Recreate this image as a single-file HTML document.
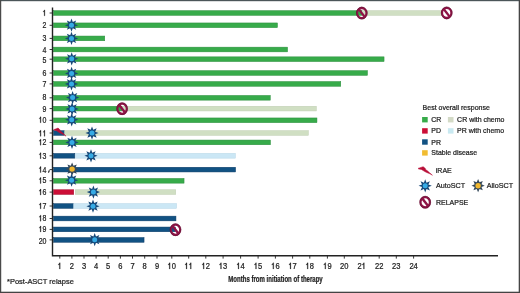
<!DOCTYPE html><html><head><meta charset="utf-8"><style>html,body{margin:0;padding:0;background:#fff}svg{display:block;will-change:transform}text{font-family:"Liberation Sans",sans-serif}</style></head><body>
<svg width="520" height="293" viewBox="0 0 520 293">
<rect x="0" y="0" width="520" height="293" fill="#fff"/>
<rect x="53.45" y="10.65" width="308.30" height="4.7" fill="#37ab4a" stroke="#2b8d3c" stroke-width="0.5"/>
<rect x="362.25" y="10.65" width="80.50" height="4.7" fill="#d0dfc3" stroke="#bfcdb2" stroke-width="0.5"/>
<rect x="53.45" y="22.95" width="224.00" height="4.7" fill="#37ab4a" stroke="#2b8d3c" stroke-width="0.5"/>
<rect x="53.45" y="36.05" width="51.30" height="4.7" fill="#37ab4a" stroke="#2b8d3c" stroke-width="0.5"/>
<rect x="53.45" y="47.15" width="234.10" height="4.7" fill="#37ab4a" stroke="#2b8d3c" stroke-width="0.5"/>
<rect x="53.45" y="56.85" width="330.60" height="4.7" fill="#37ab4a" stroke="#2b8d3c" stroke-width="0.5"/>
<rect x="53.45" y="70.65" width="314.00" height="4.7" fill="#37ab4a" stroke="#2b8d3c" stroke-width="0.5"/>
<rect x="53.45" y="81.55" width="287.30" height="4.7" fill="#37ab4a" stroke="#2b8d3c" stroke-width="0.5"/>
<rect x="53.45" y="95.45" width="216.80" height="4.7" fill="#37ab4a" stroke="#2b8d3c" stroke-width="0.5"/>
<rect x="53.45" y="106.25" width="68.30" height="4.7" fill="#37ab4a" stroke="#2b8d3c" stroke-width="0.5"/>
<rect x="122.25" y="106.25" width="194.10" height="4.7" fill="#d0dfc3" stroke="#bfcdb2" stroke-width="0.5"/>
<rect x="53.45" y="117.95" width="263.50" height="4.7" fill="#37ab4a" stroke="#2b8d3c" stroke-width="0.5"/>
<rect x="53.45" y="130.65" width="10.80" height="4.7" fill="#115283" stroke="#0b3b66" stroke-width="0.5"/>
<rect x="64.75" y="130.65" width="243.60" height="4.7" fill="#d0dfc3" stroke="#bfcdb2" stroke-width="0.5"/>
<rect x="53.45" y="140.05" width="217.00" height="4.7" fill="#37ab4a" stroke="#2b8d3c" stroke-width="0.5"/>
<rect x="53.45" y="153.45" width="21.30" height="4.7" fill="#115283" stroke="#0b3b66" stroke-width="0.5"/>
<rect x="75.25" y="153.45" width="160.00" height="4.7" fill="#cbe7f5" stroke="#b2d4e6" stroke-width="0.5"/>
<rect x="53.45" y="167.25" width="182.10" height="4.7" fill="#115283" stroke="#0b3b66" stroke-width="0.5"/>
<rect x="53.45" y="178.45" width="130.60" height="4.7" fill="#37ab4a" stroke="#2b8d3c" stroke-width="0.5"/>
<rect x="53.45" y="189.75" width="20.30" height="4.7" fill="#cc0e36" stroke="#a40f2e" stroke-width="0.5"/>
<rect x="75.25" y="189.75" width="100.50" height="4.7" fill="#d0dfc3" stroke="#bfcdb2" stroke-width="0.5"/>
<rect x="53.45" y="203.65" width="19.80" height="4.7" fill="#115283" stroke="#0b3b66" stroke-width="0.5"/>
<rect x="73.75" y="203.65" width="102.70" height="4.7" fill="#cbe7f5" stroke="#b2d4e6" stroke-width="0.5"/>
<rect x="53.45" y="216.15" width="122.50" height="4.7" fill="#115283" stroke="#0b3b66" stroke-width="0.5"/>
<rect x="53.45" y="227.05" width="121.80" height="4.7" fill="#115283" stroke="#0b3b66" stroke-width="0.5"/>
<rect x="53.45" y="237.55" width="90.60" height="4.7" fill="#115283" stroke="#0b3b66" stroke-width="0.5"/>
<path d="M52.5,7.5 V255.8 H498" fill="none" stroke="#222" stroke-width="1.4"/>
<line x1="49.6" y1="13.0" x2="52.6" y2="13.0" stroke="#222" stroke-width="0.9"/>
<path transform="translate(42.60,15.85) scale(7.007,8.316)" d="M0.33,0 L0.225,0 L0.225,-0.53 C0.19,-0.50 0.13,-0.47 0.085,-0.455 L0.085,-0.545 C0.16,-0.575 0.215,-0.63 0.24,-0.716 L0.33,-0.716 Z" fill="#1e1e1e" stroke="#1e1e1e" stroke-width="0.0314"/>
<line x1="49.6" y1="25.3" x2="52.6" y2="25.3" stroke="#222" stroke-width="0.9"/>
<text transform="translate(42.60,28.05) scale(0.91,1.08)" font-size="7.7" fill="#1e1e1e" stroke="#1e1e1e" stroke-width="0.22">2</text>
<line x1="49.6" y1="38.4" x2="52.6" y2="38.4" stroke="#222" stroke-width="0.9"/>
<text transform="translate(42.60,41.25) scale(0.91,1.08)" font-size="7.7" fill="#1e1e1e" stroke="#1e1e1e" stroke-width="0.22">3</text>
<line x1="49.6" y1="49.5" x2="52.6" y2="49.5" stroke="#222" stroke-width="0.9"/>
<text transform="translate(42.60,52.55) scale(0.91,1.08)" font-size="7.7" fill="#1e1e1e" stroke="#1e1e1e" stroke-width="0.22">4</text>
<line x1="49.6" y1="59.2" x2="52.6" y2="59.2" stroke="#222" stroke-width="0.9"/>
<text transform="translate(42.60,62.55) scale(0.91,1.08)" font-size="7.7" fill="#1e1e1e" stroke="#1e1e1e" stroke-width="0.22">5</text>
<line x1="49.6" y1="73.0" x2="52.6" y2="73.0" stroke="#222" stroke-width="0.9"/>
<text transform="translate(42.60,76.05) scale(0.91,1.08)" font-size="7.7" fill="#1e1e1e" stroke="#1e1e1e" stroke-width="0.22">6</text>
<line x1="49.6" y1="83.9" x2="52.6" y2="83.9" stroke="#222" stroke-width="0.9"/>
<text transform="translate(42.60,86.65) scale(0.91,1.08)" font-size="7.7" fill="#1e1e1e" stroke="#1e1e1e" stroke-width="0.22">7</text>
<line x1="49.6" y1="97.8" x2="52.6" y2="97.8" stroke="#222" stroke-width="0.9"/>
<text transform="translate(42.60,100.35) scale(0.91,1.08)" font-size="7.7" fill="#1e1e1e" stroke="#1e1e1e" stroke-width="0.22">8</text>
<line x1="49.6" y1="108.6" x2="52.6" y2="108.6" stroke="#222" stroke-width="0.9"/>
<text transform="translate(42.60,111.55) scale(0.91,1.08)" font-size="7.7" fill="#1e1e1e" stroke="#1e1e1e" stroke-width="0.22">9</text>
<line x1="49.6" y1="120.3" x2="52.6" y2="120.3" stroke="#222" stroke-width="0.9"/>
<path transform="translate(38.71,122.75) scale(7.007,8.316)" d="M0.33,0 L0.225,0 L0.225,-0.53 C0.19,-0.50 0.13,-0.47 0.085,-0.455 L0.085,-0.545 C0.16,-0.575 0.215,-0.63 0.24,-0.716 L0.33,-0.716 Z" fill="#1e1e1e" stroke="#1e1e1e" stroke-width="0.0314"/><text transform="translate(42.60,122.75) scale(0.91,1.08)" font-size="7.7" fill="#1e1e1e" stroke="#1e1e1e" stroke-width="0.22">0</text>
<line x1="49.6" y1="133.0" x2="52.6" y2="133.0" stroke="#222" stroke-width="0.9"/>
<path transform="translate(38.71,136.25) scale(7.007,8.316)" d="M0.33,0 L0.225,0 L0.225,-0.53 C0.19,-0.50 0.13,-0.47 0.085,-0.455 L0.085,-0.545 C0.16,-0.575 0.215,-0.63 0.24,-0.716 L0.33,-0.716 Z" fill="#1e1e1e" stroke="#1e1e1e" stroke-width="0.0314"/><path transform="translate(42.60,136.25) scale(7.007,8.316)" d="M0.33,0 L0.225,0 L0.225,-0.53 C0.19,-0.50 0.13,-0.47 0.085,-0.455 L0.085,-0.545 C0.16,-0.575 0.215,-0.63 0.24,-0.716 L0.33,-0.716 Z" fill="#1e1e1e" stroke="#1e1e1e" stroke-width="0.0314"/>
<line x1="49.6" y1="142.4" x2="52.6" y2="142.4" stroke="#222" stroke-width="0.9"/>
<path transform="translate(38.71,145.15) scale(7.007,8.316)" d="M0.33,0 L0.225,0 L0.225,-0.53 C0.19,-0.50 0.13,-0.47 0.085,-0.455 L0.085,-0.545 C0.16,-0.575 0.215,-0.63 0.24,-0.716 L0.33,-0.716 Z" fill="#1e1e1e" stroke="#1e1e1e" stroke-width="0.0314"/><text transform="translate(42.60,145.15) scale(0.91,1.08)" font-size="7.7" fill="#1e1e1e" stroke="#1e1e1e" stroke-width="0.22">2</text>
<line x1="49.6" y1="155.8" x2="52.6" y2="155.8" stroke="#222" stroke-width="0.9"/>
<path transform="translate(38.71,158.65) scale(7.007,8.316)" d="M0.33,0 L0.225,0 L0.225,-0.53 C0.19,-0.50 0.13,-0.47 0.085,-0.455 L0.085,-0.545 C0.16,-0.575 0.215,-0.63 0.24,-0.716 L0.33,-0.716 Z" fill="#1e1e1e" stroke="#1e1e1e" stroke-width="0.0314"/><text transform="translate(42.60,158.65) scale(0.91,1.08)" font-size="7.7" fill="#1e1e1e" stroke="#1e1e1e" stroke-width="0.22">3</text>
<line x1="49.6" y1="169.6" x2="52.6" y2="169.6" stroke="#222" stroke-width="0.9"/>
<path transform="translate(38.71,172.55) scale(7.007,8.316)" d="M0.33,0 L0.225,0 L0.225,-0.53 C0.19,-0.50 0.13,-0.47 0.085,-0.455 L0.085,-0.545 C0.16,-0.575 0.215,-0.63 0.24,-0.716 L0.33,-0.716 Z" fill="#1e1e1e" stroke="#1e1e1e" stroke-width="0.0314"/><text transform="translate(42.60,172.55) scale(0.91,1.08)" font-size="7.7" fill="#1e1e1e" stroke="#1e1e1e" stroke-width="0.22">4</text>
<line x1="49.6" y1="180.8" x2="52.6" y2="180.8" stroke="#222" stroke-width="0.9"/>
<path transform="translate(38.71,183.45) scale(7.007,8.316)" d="M0.33,0 L0.225,0 L0.225,-0.53 C0.19,-0.50 0.13,-0.47 0.085,-0.455 L0.085,-0.545 C0.16,-0.575 0.215,-0.63 0.24,-0.716 L0.33,-0.716 Z" fill="#1e1e1e" stroke="#1e1e1e" stroke-width="0.0314"/><text transform="translate(42.60,183.45) scale(0.91,1.08)" font-size="7.7" fill="#1e1e1e" stroke="#1e1e1e" stroke-width="0.22">5</text>
<line x1="49.6" y1="192.1" x2="52.6" y2="192.1" stroke="#222" stroke-width="0.9"/>
<path transform="translate(38.71,195.05) scale(7.007,8.316)" d="M0.33,0 L0.225,0 L0.225,-0.53 C0.19,-0.50 0.13,-0.47 0.085,-0.455 L0.085,-0.545 C0.16,-0.575 0.215,-0.63 0.24,-0.716 L0.33,-0.716 Z" fill="#1e1e1e" stroke="#1e1e1e" stroke-width="0.0314"/><text transform="translate(42.60,195.05) scale(0.91,1.08)" font-size="7.7" fill="#1e1e1e" stroke="#1e1e1e" stroke-width="0.22">6</text>
<line x1="49.6" y1="206.0" x2="52.6" y2="206.0" stroke="#222" stroke-width="0.9"/>
<path transform="translate(38.71,208.85) scale(7.007,8.316)" d="M0.33,0 L0.225,0 L0.225,-0.53 C0.19,-0.50 0.13,-0.47 0.085,-0.455 L0.085,-0.545 C0.16,-0.575 0.215,-0.63 0.24,-0.716 L0.33,-0.716 Z" fill="#1e1e1e" stroke="#1e1e1e" stroke-width="0.0314"/><text transform="translate(42.60,208.85) scale(0.91,1.08)" font-size="7.7" fill="#1e1e1e" stroke="#1e1e1e" stroke-width="0.22">7</text>
<line x1="49.6" y1="218.5" x2="52.6" y2="218.5" stroke="#222" stroke-width="0.9"/>
<path transform="translate(38.71,221.15) scale(7.007,8.316)" d="M0.33,0 L0.225,0 L0.225,-0.53 C0.19,-0.50 0.13,-0.47 0.085,-0.455 L0.085,-0.545 C0.16,-0.575 0.215,-0.63 0.24,-0.716 L0.33,-0.716 Z" fill="#1e1e1e" stroke="#1e1e1e" stroke-width="0.0314"/><text transform="translate(42.60,221.15) scale(0.91,1.08)" font-size="7.7" fill="#1e1e1e" stroke="#1e1e1e" stroke-width="0.22">8</text>
<line x1="49.6" y1="229.4" x2="52.6" y2="229.4" stroke="#222" stroke-width="0.9"/>
<path transform="translate(38.71,231.95) scale(7.007,8.316)" d="M0.33,0 L0.225,0 L0.225,-0.53 C0.19,-0.50 0.13,-0.47 0.085,-0.455 L0.085,-0.545 C0.16,-0.575 0.215,-0.63 0.24,-0.716 L0.33,-0.716 Z" fill="#1e1e1e" stroke="#1e1e1e" stroke-width="0.0314"/><text transform="translate(42.60,231.95) scale(0.91,1.08)" font-size="7.7" fill="#1e1e1e" stroke="#1e1e1e" stroke-width="0.22">9</text>
<line x1="49.6" y1="239.9" x2="52.6" y2="239.9" stroke="#222" stroke-width="0.9"/>
<text transform="translate(38.71,243.85) scale(0.91,1.08)" font-size="7.7" fill="#1e1e1e" stroke="#1e1e1e" stroke-width="0.22">2</text><text transform="translate(42.60,243.85) scale(0.91,1.08)" font-size="7.7" fill="#1e1e1e" stroke="#1e1e1e" stroke-width="0.22">0</text>
<line x1="59.8" y1="255.8" x2="59.8" y2="258.6" stroke="#222" stroke-width="0.9"/>
<path transform="translate(57.70,268.90) scale(7.546,8.470)" d="M0.33,0 L0.225,0 L0.225,-0.53 C0.19,-0.50 0.13,-0.47 0.085,-0.455 L0.085,-0.545 C0.16,-0.575 0.215,-0.63 0.24,-0.716 L0.33,-0.716 Z" fill="#1e1e1e" stroke="#1e1e1e" stroke-width="0.0292"/>
<line x1="71.9" y1="255.8" x2="71.9" y2="258.6" stroke="#222" stroke-width="0.9"/>
<text transform="translate(69.80,268.90) scale(0.98,1.1)" font-size="7.7" fill="#1e1e1e" stroke="#1e1e1e" stroke-width="0.22">2</text>
<line x1="84" y1="255.8" x2="84" y2="258.6" stroke="#222" stroke-width="0.9"/>
<text transform="translate(81.90,268.90) scale(0.98,1.1)" font-size="7.7" fill="#1e1e1e" stroke="#1e1e1e" stroke-width="0.22">3</text>
<line x1="96.1" y1="255.8" x2="96.1" y2="258.6" stroke="#222" stroke-width="0.9"/>
<text transform="translate(94.00,268.90) scale(0.98,1.1)" font-size="7.7" fill="#1e1e1e" stroke="#1e1e1e" stroke-width="0.22">4</text>
<line x1="108.2" y1="255.8" x2="108.2" y2="258.6" stroke="#222" stroke-width="0.9"/>
<text transform="translate(106.10,268.90) scale(0.98,1.1)" font-size="7.7" fill="#1e1e1e" stroke="#1e1e1e" stroke-width="0.22">5</text>
<line x1="120.4" y1="255.8" x2="120.4" y2="258.6" stroke="#222" stroke-width="0.9"/>
<text transform="translate(118.30,268.90) scale(0.98,1.1)" font-size="7.7" fill="#1e1e1e" stroke="#1e1e1e" stroke-width="0.22">6</text>
<line x1="132.5" y1="255.8" x2="132.5" y2="258.6" stroke="#222" stroke-width="0.9"/>
<text transform="translate(130.40,268.90) scale(0.98,1.1)" font-size="7.7" fill="#1e1e1e" stroke="#1e1e1e" stroke-width="0.22">7</text>
<line x1="144.7" y1="255.8" x2="144.7" y2="258.6" stroke="#222" stroke-width="0.9"/>
<text transform="translate(142.60,268.90) scale(0.98,1.1)" font-size="7.7" fill="#1e1e1e" stroke="#1e1e1e" stroke-width="0.22">8</text>
<line x1="157" y1="255.8" x2="157" y2="258.6" stroke="#222" stroke-width="0.9"/>
<text transform="translate(154.90,268.90) scale(0.98,1.1)" font-size="7.7" fill="#1e1e1e" stroke="#1e1e1e" stroke-width="0.22">9</text>
<line x1="171.8" y1="255.8" x2="171.8" y2="258.6" stroke="#222" stroke-width="0.9"/>
<path transform="translate(167.60,268.90) scale(7.546,8.470)" d="M0.33,0 L0.225,0 L0.225,-0.53 C0.19,-0.50 0.13,-0.47 0.085,-0.455 L0.085,-0.545 C0.16,-0.575 0.215,-0.63 0.24,-0.716 L0.33,-0.716 Z" fill="#1e1e1e" stroke="#1e1e1e" stroke-width="0.0292"/><text transform="translate(171.80,268.90) scale(0.98,1.1)" font-size="7.7" fill="#1e1e1e" stroke="#1e1e1e" stroke-width="0.22">0</text>
<line x1="188.7" y1="255.8" x2="188.7" y2="258.6" stroke="#222" stroke-width="0.9"/>
<path transform="translate(184.50,268.90) scale(7.546,8.470)" d="M0.33,0 L0.225,0 L0.225,-0.53 C0.19,-0.50 0.13,-0.47 0.085,-0.455 L0.085,-0.545 C0.16,-0.575 0.215,-0.63 0.24,-0.716 L0.33,-0.716 Z" fill="#1e1e1e" stroke="#1e1e1e" stroke-width="0.0292"/><path transform="translate(188.70,268.90) scale(7.546,8.470)" d="M0.33,0 L0.225,0 L0.225,-0.53 C0.19,-0.50 0.13,-0.47 0.085,-0.455 L0.085,-0.545 C0.16,-0.575 0.215,-0.63 0.24,-0.716 L0.33,-0.716 Z" fill="#1e1e1e" stroke="#1e1e1e" stroke-width="0.0292"/>
<line x1="205.8" y1="255.8" x2="205.8" y2="258.6" stroke="#222" stroke-width="0.9"/>
<path transform="translate(201.60,268.90) scale(7.546,8.470)" d="M0.33,0 L0.225,0 L0.225,-0.53 C0.19,-0.50 0.13,-0.47 0.085,-0.455 L0.085,-0.545 C0.16,-0.575 0.215,-0.63 0.24,-0.716 L0.33,-0.716 Z" fill="#1e1e1e" stroke="#1e1e1e" stroke-width="0.0292"/><text transform="translate(205.80,268.90) scale(0.98,1.1)" font-size="7.7" fill="#1e1e1e" stroke="#1e1e1e" stroke-width="0.22">2</text>
<line x1="223.1" y1="255.8" x2="223.1" y2="258.6" stroke="#222" stroke-width="0.9"/>
<path transform="translate(218.90,268.90) scale(7.546,8.470)" d="M0.33,0 L0.225,0 L0.225,-0.53 C0.19,-0.50 0.13,-0.47 0.085,-0.455 L0.085,-0.545 C0.16,-0.575 0.215,-0.63 0.24,-0.716 L0.33,-0.716 Z" fill="#1e1e1e" stroke="#1e1e1e" stroke-width="0.0292"/><text transform="translate(223.10,268.90) scale(0.98,1.1)" font-size="7.7" fill="#1e1e1e" stroke="#1e1e1e" stroke-width="0.22">3</text>
<line x1="240.6" y1="255.8" x2="240.6" y2="258.6" stroke="#222" stroke-width="0.9"/>
<path transform="translate(236.40,268.90) scale(7.546,8.470)" d="M0.33,0 L0.225,0 L0.225,-0.53 C0.19,-0.50 0.13,-0.47 0.085,-0.455 L0.085,-0.545 C0.16,-0.575 0.215,-0.63 0.24,-0.716 L0.33,-0.716 Z" fill="#1e1e1e" stroke="#1e1e1e" stroke-width="0.0292"/><text transform="translate(240.60,268.90) scale(0.98,1.1)" font-size="7.7" fill="#1e1e1e" stroke="#1e1e1e" stroke-width="0.22">4</text>
<line x1="258.1" y1="255.8" x2="258.1" y2="258.6" stroke="#222" stroke-width="0.9"/>
<path transform="translate(253.90,268.90) scale(7.546,8.470)" d="M0.33,0 L0.225,0 L0.225,-0.53 C0.19,-0.50 0.13,-0.47 0.085,-0.455 L0.085,-0.545 C0.16,-0.575 0.215,-0.63 0.24,-0.716 L0.33,-0.716 Z" fill="#1e1e1e" stroke="#1e1e1e" stroke-width="0.0292"/><text transform="translate(258.10,268.90) scale(0.98,1.1)" font-size="7.7" fill="#1e1e1e" stroke="#1e1e1e" stroke-width="0.22">5</text>
<line x1="275.4" y1="255.8" x2="275.4" y2="258.6" stroke="#222" stroke-width="0.9"/>
<path transform="translate(271.20,268.90) scale(7.546,8.470)" d="M0.33,0 L0.225,0 L0.225,-0.53 C0.19,-0.50 0.13,-0.47 0.085,-0.455 L0.085,-0.545 C0.16,-0.575 0.215,-0.63 0.24,-0.716 L0.33,-0.716 Z" fill="#1e1e1e" stroke="#1e1e1e" stroke-width="0.0292"/><text transform="translate(275.40,268.90) scale(0.98,1.1)" font-size="7.7" fill="#1e1e1e" stroke="#1e1e1e" stroke-width="0.22">6</text>
<line x1="292.6" y1="255.8" x2="292.6" y2="258.6" stroke="#222" stroke-width="0.9"/>
<path transform="translate(288.40,268.90) scale(7.546,8.470)" d="M0.33,0 L0.225,0 L0.225,-0.53 C0.19,-0.50 0.13,-0.47 0.085,-0.455 L0.085,-0.545 C0.16,-0.575 0.215,-0.63 0.24,-0.716 L0.33,-0.716 Z" fill="#1e1e1e" stroke="#1e1e1e" stroke-width="0.0292"/><text transform="translate(292.60,268.90) scale(0.98,1.1)" font-size="7.7" fill="#1e1e1e" stroke="#1e1e1e" stroke-width="0.22">7</text>
<line x1="309.8" y1="255.8" x2="309.8" y2="258.6" stroke="#222" stroke-width="0.9"/>
<path transform="translate(305.60,268.90) scale(7.546,8.470)" d="M0.33,0 L0.225,0 L0.225,-0.53 C0.19,-0.50 0.13,-0.47 0.085,-0.455 L0.085,-0.545 C0.16,-0.575 0.215,-0.63 0.24,-0.716 L0.33,-0.716 Z" fill="#1e1e1e" stroke="#1e1e1e" stroke-width="0.0292"/><text transform="translate(309.80,268.90) scale(0.98,1.1)" font-size="7.7" fill="#1e1e1e" stroke="#1e1e1e" stroke-width="0.22">8</text>
<line x1="327.4" y1="255.8" x2="327.4" y2="258.6" stroke="#222" stroke-width="0.9"/>
<path transform="translate(323.20,268.90) scale(7.546,8.470)" d="M0.33,0 L0.225,0 L0.225,-0.53 C0.19,-0.50 0.13,-0.47 0.085,-0.455 L0.085,-0.545 C0.16,-0.575 0.215,-0.63 0.24,-0.716 L0.33,-0.716 Z" fill="#1e1e1e" stroke="#1e1e1e" stroke-width="0.0292"/><text transform="translate(327.40,268.90) scale(0.98,1.1)" font-size="7.7" fill="#1e1e1e" stroke="#1e1e1e" stroke-width="0.22">9</text>
<line x1="344.3" y1="255.8" x2="344.3" y2="258.6" stroke="#222" stroke-width="0.9"/>
<text transform="translate(340.10,268.90) scale(0.98,1.1)" font-size="7.7" fill="#1e1e1e" stroke="#1e1e1e" stroke-width="0.22">2</text><text transform="translate(344.30,268.90) scale(0.98,1.1)" font-size="7.7" fill="#1e1e1e" stroke="#1e1e1e" stroke-width="0.22">0</text>
<line x1="361.8" y1="255.8" x2="361.8" y2="258.6" stroke="#222" stroke-width="0.9"/>
<text transform="translate(357.60,268.90) scale(0.98,1.1)" font-size="7.7" fill="#1e1e1e" stroke="#1e1e1e" stroke-width="0.22">2</text><path transform="translate(361.80,268.90) scale(7.546,8.470)" d="M0.33,0 L0.225,0 L0.225,-0.53 C0.19,-0.50 0.13,-0.47 0.085,-0.455 L0.085,-0.545 C0.16,-0.575 0.215,-0.63 0.24,-0.716 L0.33,-0.716 Z" fill="#1e1e1e" stroke="#1e1e1e" stroke-width="0.0292"/>
<line x1="379.2" y1="255.8" x2="379.2" y2="258.6" stroke="#222" stroke-width="0.9"/>
<text transform="translate(375.00,268.90) scale(0.98,1.1)" font-size="7.7" fill="#1e1e1e" stroke="#1e1e1e" stroke-width="0.22">2</text><text transform="translate(379.20,268.90) scale(0.98,1.1)" font-size="7.7" fill="#1e1e1e" stroke="#1e1e1e" stroke-width="0.22">2</text>
<line x1="396.3" y1="255.8" x2="396.3" y2="258.6" stroke="#222" stroke-width="0.9"/>
<text transform="translate(392.10,268.90) scale(0.98,1.1)" font-size="7.7" fill="#1e1e1e" stroke="#1e1e1e" stroke-width="0.22">2</text><text transform="translate(396.30,268.90) scale(0.98,1.1)" font-size="7.7" fill="#1e1e1e" stroke="#1e1e1e" stroke-width="0.22">3</text>
<line x1="413.6" y1="255.8" x2="413.6" y2="258.6" stroke="#222" stroke-width="0.9"/>
<text transform="translate(409.40,268.90) scale(0.98,1.1)" font-size="7.7" fill="#1e1e1e" stroke="#1e1e1e" stroke-width="0.22">2</text><text transform="translate(413.60,268.90) scale(0.98,1.1)" font-size="7.7" fill="#1e1e1e" stroke="#1e1e1e" stroke-width="0.22">4</text>
<g transform="translate(361.8,13.1) scale(1,1.1)"><circle cx="0" cy="0" r="4.65" fill="none" stroke="#8e1446" stroke-width="2.1"/><line x1="-3.20" y1="-3.73" x2="3.20" y2="3.73" stroke="#8e1446" stroke-width="2.3"/><circle cx="0" cy="0" r="5.45" fill="none" stroke="#560d2c" stroke-width="0.5"/></g>
<g transform="translate(446.7,12.9) scale(1,1.1)"><circle cx="0" cy="0" r="4.65" fill="none" stroke="#8e1446" stroke-width="2.1"/><line x1="-3.20" y1="-3.73" x2="3.20" y2="3.73" stroke="#8e1446" stroke-width="2.3"/><circle cx="0" cy="0" r="5.45" fill="none" stroke="#560d2c" stroke-width="0.5"/></g>
<polygon points="71.50,18.60 72.80,22.06 76.17,20.53 74.64,23.90 78.10,25.20 74.64,26.50 76.17,29.87 72.80,28.34 71.50,31.80 70.20,28.34 66.83,29.87 68.36,26.50 64.90,25.20 68.36,23.90 66.83,20.53 70.20,22.06" fill="#164878"/><circle cx="71.5" cy="25.2" r="2.5" fill="#36abe5"/>
<polygon points="71.50,31.80 72.80,35.26 76.17,33.73 74.64,37.10 78.10,38.40 74.64,39.70 76.17,43.07 72.80,41.54 71.50,45.00 70.20,41.54 66.83,43.07 68.36,39.70 64.90,38.40 68.36,37.10 66.83,33.73 70.20,35.26" fill="#164878"/><circle cx="71.5" cy="38.4" r="2.5" fill="#36abe5"/>
<polygon points="71.70,52.20 73.00,55.66 76.37,54.13 74.84,57.50 78.30,58.80 74.84,60.10 76.37,63.47 73.00,61.94 71.70,65.40 70.40,61.94 67.03,63.47 68.56,60.10 65.10,58.80 68.56,57.50 67.03,54.13 70.40,55.66" fill="#164878"/><circle cx="71.7" cy="58.8" r="2.5" fill="#36abe5"/>
<polygon points="71.60,66.80 72.90,70.26 76.27,68.73 74.74,72.10 78.20,73.40 74.74,74.70 76.27,78.07 72.90,76.54 71.60,80.00 70.30,76.54 66.93,78.07 68.46,74.70 65.00,73.40 68.46,72.10 66.93,68.73 70.30,70.26" fill="#164878"/><circle cx="71.6" cy="73.4" r="2.5" fill="#36abe5"/>
<polygon points="71.50,77.30 72.80,80.76 76.17,79.23 74.64,82.60 78.10,83.90 74.64,85.20 76.17,88.57 72.80,87.04 71.50,90.50 70.20,87.04 66.83,88.57 68.36,85.20 64.90,83.90 68.36,82.60 66.83,79.23 70.20,80.76" fill="#164878"/><circle cx="71.5" cy="83.9" r="2.5" fill="#36abe5"/>
<polygon points="72.60,91.00 73.90,94.46 77.27,92.93 75.74,96.30 79.20,97.60 75.74,98.90 77.27,102.27 73.90,100.74 72.60,104.20 71.30,100.74 67.93,102.27 69.46,98.90 66.00,97.60 69.46,96.30 67.93,92.93 71.30,94.46" fill="#164878"/><circle cx="72.6" cy="97.6" r="2.5" fill="#36abe5"/>
<polygon points="72.10,102.30 73.40,105.76 76.77,104.23 75.24,107.60 78.70,108.90 75.24,110.20 76.77,113.57 73.40,112.04 72.10,115.50 70.80,112.04 67.43,113.57 68.96,110.20 65.50,108.90 68.96,107.60 67.43,104.23 70.80,105.76" fill="#164878"/><circle cx="72.1" cy="108.9" r="2.5" fill="#36abe5"/>
<g transform="translate(122.1,108.7) scale(1,1.1)"><circle cx="0" cy="0" r="4.65" fill="none" stroke="#8e1446" stroke-width="2.1"/><line x1="-3.20" y1="-3.73" x2="3.20" y2="3.73" stroke="#8e1446" stroke-width="2.3"/><circle cx="0" cy="0" r="5.45" fill="none" stroke="#560d2c" stroke-width="0.5"/></g>
<polygon points="71.70,113.20 73.00,116.66 76.37,115.13 74.84,118.50 78.30,119.80 74.84,121.10 76.37,124.47 73.00,122.94 71.70,126.40 70.40,122.94 67.03,124.47 68.56,121.10 65.10,119.80 68.56,118.50 67.03,115.13 70.40,116.66" fill="#164878"/><circle cx="71.7" cy="119.8" r="2.5" fill="#36abe5"/>
<path transform="translate(53.2,127.8) scale(0.87,0.95)" d="M0.4,2.0 L5.5,0.3 L6.7,1.1 L7.7,2.1 L8.2,3.4 L9.8,4.4 L11.7,6.1 L14.8,8.8 L12.3,7.4 L10.3,6.6 L8.5,5.8 L7.2,5.2 L5.5,4.1 L3.7,3.0 L1.0,2.5 Z" fill="#b80f38" stroke="#b80f38" stroke-width="0.5" stroke-linejoin="round"/>
<polygon points="92.00,126.40 93.30,129.86 96.67,128.33 95.14,131.70 98.60,133.00 95.14,134.30 96.67,137.67 93.30,136.14 92.00,139.60 90.70,136.14 87.33,137.67 88.86,134.30 85.40,133.00 88.86,131.70 87.33,128.33 90.70,129.86" fill="#164878"/><circle cx="92" cy="133" r="2.5" fill="#36abe5"/>
<polygon points="72.00,135.80 73.30,139.26 76.67,137.73 75.14,141.10 78.60,142.40 75.14,143.70 76.67,147.07 73.30,145.54 72.00,149.00 70.70,145.54 67.33,147.07 68.86,143.70 65.40,142.40 68.86,141.10 67.33,137.73 70.70,139.26" fill="#164878"/><circle cx="72" cy="142.4" r="2.5" fill="#36abe5"/>
<polygon points="91.00,149.20 92.30,152.66 95.67,151.13 94.14,154.50 97.60,155.80 94.14,157.10 95.67,160.47 92.30,158.94 91.00,162.40 89.70,158.94 86.33,160.47 87.86,157.10 84.40,155.80 87.86,154.50 86.33,151.13 89.70,152.66" fill="#164878"/><circle cx="91" cy="155.8" r="2.5" fill="#36abe5"/>
<polygon points="72.10,162.50 73.52,165.68 76.77,164.43 75.52,167.68 78.70,169.10 75.52,170.52 76.77,173.77 73.52,172.52 72.10,175.70 70.68,172.52 67.43,173.77 68.68,170.52 65.50,169.10 68.68,167.68 67.43,164.43 70.68,165.68" fill="#35495a"/><circle cx="72.1" cy="169.1" r="2.7" fill="#f1b72e"/>
<polygon points="71.60,173.60 72.90,177.06 76.27,175.53 74.74,178.90 78.20,180.20 74.74,181.50 76.27,184.87 72.90,183.34 71.60,186.80 70.30,183.34 66.93,184.87 68.46,181.50 65.00,180.20 68.46,178.90 66.93,175.53 70.30,177.06" fill="#164878"/><circle cx="71.6" cy="180.2" r="2.5" fill="#36abe5"/>
<polygon points="93.40,185.50 94.70,188.96 98.07,187.43 96.54,190.80 100.00,192.10 96.54,193.40 98.07,196.77 94.70,195.24 93.40,198.70 92.10,195.24 88.73,196.77 90.26,193.40 86.80,192.10 90.26,190.80 88.73,187.43 92.10,188.96" fill="#164878"/><circle cx="93.4" cy="192.1" r="2.5" fill="#36abe5"/>
<polygon points="93.00,199.60 94.30,203.06 97.67,201.53 96.14,204.90 99.60,206.20 96.14,207.50 97.67,210.87 94.30,209.34 93.00,212.80 91.70,209.34 88.33,210.87 89.86,207.50 86.40,206.20 89.86,204.90 88.33,201.53 91.70,203.06" fill="#164878"/><circle cx="93" cy="206.2" r="2.5" fill="#36abe5"/>
<g transform="translate(175.5,229.7) scale(1,1.1)"><circle cx="0" cy="0" r="4.65" fill="none" stroke="#8e1446" stroke-width="2.1"/><line x1="-3.20" y1="-3.73" x2="3.20" y2="3.73" stroke="#8e1446" stroke-width="2.3"/><circle cx="0" cy="0" r="5.45" fill="none" stroke="#560d2c" stroke-width="0.5"/></g>
<polygon points="94.70,233.10 96.00,236.56 99.37,235.03 97.84,238.40 101.30,239.70 97.84,241.00 99.37,244.37 96.00,242.84 94.70,246.30 93.40,242.84 90.03,244.37 91.56,241.00 88.10,239.70 91.56,238.40 90.03,235.03 93.40,236.56" fill="#164878"/><circle cx="94.7" cy="239.7" r="2.5" fill="#36abe5"/>
<line x1="49.2" y1="170.7" x2="48.6" y2="172.2" stroke="#1e1e1e" stroke-width="1.15" stroke-linecap="round"/>
<text transform="translate(422.6,110.30) scale(1.0,1.07)" font-size="7" fill="#1e1e1e" stroke="#1e1e1e" stroke-width="0.22">Best overall response</text>
<rect x="422.1" y="117.0" width="5.6" height="5.4" fill="#37ab4a"/>
<text transform="translate(431.3,122.20) scale(1.0,1.07)" font-size="7" fill="#1e1e1e" stroke="#1e1e1e" stroke-width="0.22">CR</text>
<rect x="447.9" y="117.0" width="5.6" height="5.4" fill="#d3dac6"/>
<text transform="translate(457.1,122.20) scale(1.0,1.07)" font-size="7" fill="#1e1e1e" stroke="#1e1e1e" stroke-width="0.22">CR with chemo</text>
<rect x="422.1" y="128.2" width="5.6" height="5.4" fill="#cc0e36"/>
<text transform="translate(431.3,133.40) scale(1.0,1.07)" font-size="7" fill="#1e1e1e" stroke="#1e1e1e" stroke-width="0.22">PD</text>
<rect x="447.9" y="128.2" width="5.6" height="5.4" fill="#c9e9f1"/>
<text transform="translate(457.1,133.40) scale(1.0,1.07)" font-size="7" fill="#1e1e1e" stroke="#1e1e1e" stroke-width="0.22">PR with chemo</text>
<rect x="422.1" y="139.3" width="5.6" height="5.4" fill="#115283"/>
<text transform="translate(431.3,144.50) scale(1.0,1.07)" font-size="7" fill="#1e1e1e" stroke="#1e1e1e" stroke-width="0.22">PR</text>
<rect x="422.1" y="150.2" width="5.6" height="5.4" fill="#f1bc30"/>
<text transform="translate(431.3,155.40) scale(1.0,1.07)" font-size="7" fill="#1e1e1e" stroke="#1e1e1e" stroke-width="0.22">Stable disease</text>
<path transform="translate(417.6,166.4) scale(1.0,1.0)" d="M0.4,2.0 L5.5,0.3 L6.7,1.1 L7.7,2.1 L8.2,3.4 L9.8,4.4 L11.7,6.1 L14.8,8.8 L12.3,7.4 L10.3,6.6 L8.5,5.8 L7.2,5.2 L5.5,4.1 L3.7,3.0 L1.0,2.5 Z" fill="#b80f38" stroke="#b80f38" stroke-width="0.5" stroke-linejoin="round"/>
<text transform="translate(435.8,172.80) scale(1.0,1.07)" font-size="7" fill="#1e1e1e" stroke="#1e1e1e" stroke-width="0.22">iRAE</text>
<polygon points="425.20,179.20 426.50,182.66 429.87,181.13 428.34,184.50 431.80,185.80 428.34,187.10 429.87,190.47 426.50,188.94 425.20,192.40 423.90,188.94 420.53,190.47 422.06,187.10 418.60,185.80 422.06,184.50 420.53,181.13 423.90,182.66" fill="#164878"/><circle cx="425.2" cy="185.8" r="2.5" fill="#36abe5"/>
<text transform="translate(436,188.40) scale(1.0,1.05)" font-size="7.2" fill="#1e1e1e" stroke="#1e1e1e" stroke-width="0.22">AutoSCT</text>
<polygon points="478.10,179.10 479.52,182.28 482.77,181.03 481.52,184.28 484.70,185.70 481.52,187.12 482.77,190.37 479.52,189.12 478.10,192.30 476.68,189.12 473.43,190.37 474.68,187.12 471.50,185.70 474.68,184.28 473.43,181.03 476.68,182.28" fill="#35495a"/><circle cx="478.1" cy="185.7" r="2.7" fill="#f1b72e"/>
<text transform="translate(486.7,188.40) scale(1.0,1.05)" font-size="7.2" fill="#1e1e1e" stroke="#1e1e1e" stroke-width="0.22">AlloSCT</text>
<g transform="translate(425.2,202.2) scale(1,1.1)"><circle cx="0" cy="0" r="4.65" fill="none" stroke="#8e1446" stroke-width="2.1"/><line x1="-3.20" y1="-3.73" x2="3.20" y2="3.73" stroke="#8e1446" stroke-width="2.3"/><circle cx="0" cy="0" r="5.45" fill="none" stroke="#560d2c" stroke-width="0.5"/></g>
<text transform="translate(436,204.90) scale(1.0,1.07)" font-size="7" fill="#1e1e1e" stroke="#1e1e1e" stroke-width="0.22">RELAPSE</text>
<text transform="translate(7,284.40) scale(1.0,1.05)" font-size="7.5" fill="#1e1e1e" stroke="#1e1e1e" stroke-width="0.22">*Post-ASCT relapse</text>
<text x="0" y="0" font-size="8.8" font-weight="bold" fill="#1e1e1e" stroke="#1e1e1e" stroke-width="0.25" transform="translate(228.3,281.8) scale(0.688,1)">Months from initiation of therapy</text>
<rect x="0" y="0" width="520" height="1" fill="#4b5659"/><rect x="0" y="1" width="520" height="1" fill="#4b5659" opacity="0.2"/>
<rect x="0" y="0" width="1" height="293" fill="#4a4a4a"/><rect x="1" y="0" width="1" height="293" fill="#4a4a4a" opacity="0.22"/>
<rect x="519" y="0" width="1" height="293" fill="#454545"/><rect x="518" y="0" width="1" height="293" fill="#454545" opacity="0.3"/>
<rect x="0" y="292" width="520" height="1" fill="#444"/><rect x="0" y="291" width="520" height="1" fill="#444" opacity="0.3"/>
</svg></body></html>
